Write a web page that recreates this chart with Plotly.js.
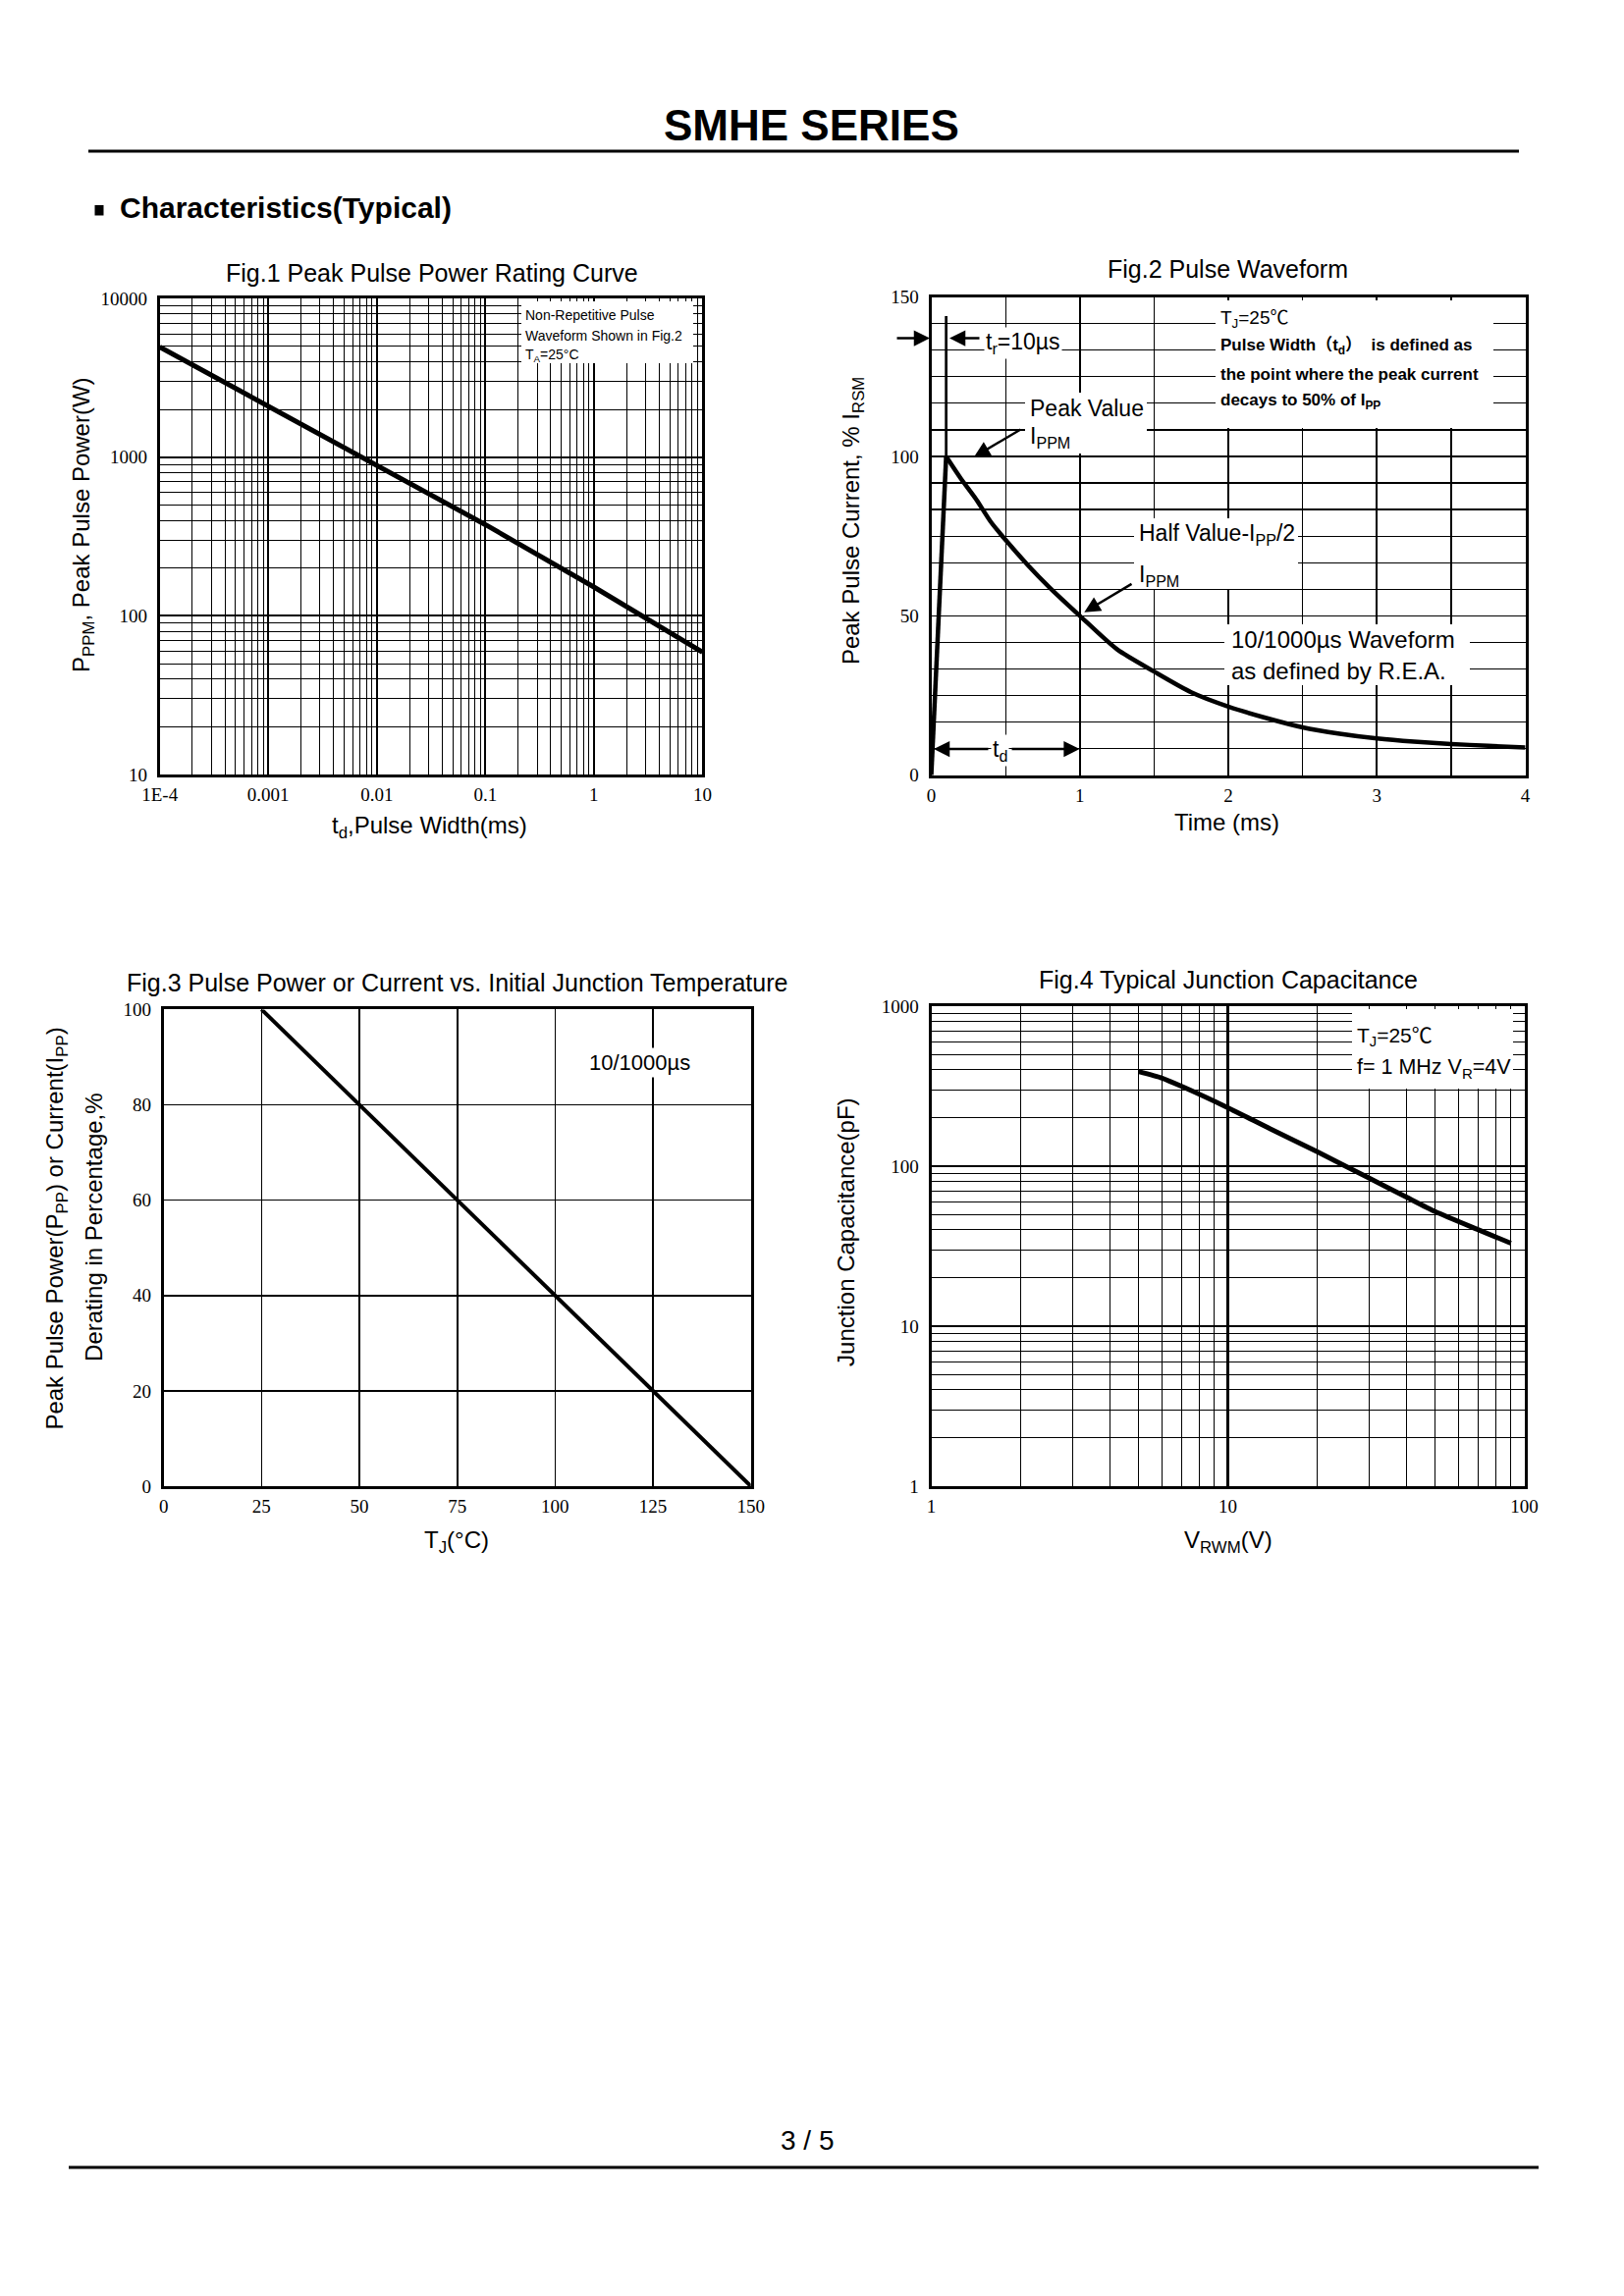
<!DOCTYPE html>
<html>
<head>
<meta charset="utf-8">
<script src="https://cdn.plot.ly/plotly-3.0.1.min.js"></script>
<style>
  html, body { margin: 0; padding: 0; background: #ffffff; }
  #chart { width: 1654px; height: 2339px; }
</style>
</head>
<body>
<div id="chart"></div>
<script>
// ---------------- DATA ----------------
// Fig.1 Peak Pulse Power Rating Curve
const fig1PulseWidth = [1e-4, 1e-3, 1e-2, 1e-1, 1, 10];          // ms
const fig1PeakPower  = [4950, 2090, 874, 376, 152, 59];            // W
const fig1XTickVals  = [1e-4, 1e-3, 1e-2, 1e-1, 1, 10];
const fig1XTickText  = ['1E-4', '0.001', '0.01', '0.1', '1', '10'];
const fig1YTickVals  = [10, 100, 1000, 10000];
const fig1YTickText  = ['10', '100', '1000', '10000'];

// Fig.2 Pulse Waveform (rise part, then decay part)
const fig2RiseTime     = [0, 0.1];     // ms
const fig2RiseCurrent  = [0, 100];     // % IRSM
const fig2DecayTime    = [0.1, 0.2, 0.3, 0.4, 0.5, 0.65, 0.8, 1.0, 1.25, 1.5, 1.75, 2.0, 2.25, 2.5, 2.75, 3.0, 3.25, 3.5, 3.75, 4.0];
const fig2DecayCurrent = [100, 93, 86.7, 79.5, 73.8, 65.9, 58.7, 50, 39.5, 32.5, 26, 21.5, 18, 15, 13, 11.5, 10.5, 9.8, 9.2, 8.7];
const fig2XTickVals = [0, 1, 2, 3, 4];
const fig2YTickVals = [0, 50, 100, 150];
const fig2TrMarkerX = 0.1;          // ms, position of the tr marker line
const fig2TrMarkerY = [100, 144];

// Fig.3 Pulse Power or Current vs. Initial Junction Temperature
const fig3Temp     = [25, 50, 75, 100, 125, 150];   // °C
const fig3Derating = [100, 80, 60, 40, 20, 0];      // %
const fig3XTickVals = [0, 25, 50, 75, 100, 125, 150];
const fig3YTickVals = [0, 20, 40, 60, 80, 100];

// Fig.4 Typical Junction Capacitance
const fig4Voltage     = [5, 6, 7, 10, 13.9, 20, 30, 40, 50, 70, 90];            // V
const fig4Capacitance = [390, 355, 315, 232, 171, 123, 84, 64, 52, 40, 33];     // pF
const fig4XTickVals = [1, 10, 100];
const fig4XTickText = ['1', '10', '100'];
const fig4YTickVals = [1, 10, 100, 1000];
const fig4YTickText = ['1', '10', '100', '1000'];

// ---------------- LAYOUT HELPERS ----------------
const W = 1654, H = 2339;
const px = v => v / W;
const py = v => 1 - v / H;
const SANS  = 'Liberation Sans, Arial, Noto Sans CJK SC, sans-serif';
const SERIF = 'Liberation Serif, Times New Roman, serif';

const frames = {
  f1: { x0: 162.7, x1: 715.4,  y0: 304.2,  y1: 789.0 },
  f2: { x0: 948.5, x1: 1553.6, y0: 302.6,  y1: 789.7 },
  f3: { x0: 166.7, x1: 764.7,  y0: 1028.4, y1: 1514.0 },
  f4: { x0: 948.5, x1: 1552.6, y0: 1025.0, y1: 1514.0 }
};
const xdom = f => [px(f.x0), px(f.x1)];
const ydom = f => [py(f.y1), py(f.y0)];

function logMinor(lo, hi) {
  const v = [];
  for (let d = lo; d < hi; d++) for (let k = 2; k <= 9; k++) v.push(k * Math.pow(10, d));
  return v;
}

function axis(extra) {
  return Object.assign({
    showline: true, mirror: true, linewidth: 3, linecolor: '#000',
    showgrid: true, gridcolor: '#000', gridwidth: 1.5,
    zeroline: false, ticks: '',
    tickfont: { family: SERIF, size: 19, color: '#000' },
    fixedrange: true
  }, extra);
}
const XSTAND = 1, YSTAND = 6;

function txt(text, x, y, size, opts) {
  return Object.assign({
    text: text, x: px(x), y: py(y), xref: 'paper', yref: 'paper',
    showarrow: false, xanchor: 'center', yanchor: 'middle',
    font: { family: SANS, size: size, color: '#000' }
  }, opts || {});
}

function arrow(tipX, tipY, tailX, tailY) {
  return {
    text: '', x: px(tipX), y: py(tipY), xref: 'paper', yref: 'paper',
    showarrow: true, ax: tailX - tipX, ay: tailY - tipY,
    arrowhead: 2, arrowsize: 1.3, arrowwidth: 2.5, arrowcolor: '#000', standoff: 0
  };
}

function whiteBox(x0, y0, x1, y1) {
  return {
    type: 'rect', xref: 'paper', yref: 'paper', layer: 'above',
    x0: px(x0), x1: px(x1), y0: py(y1), y1: py(y0),
    fillcolor: '#ffffff', line: { width: 0 }
  };
}

// ---------------- TRACES ----------------
const traces = [
  { x: fig1PulseWidth, y: fig1PeakPower, xaxis: 'x', yaxis: 'y', type: 'scatter', mode: 'lines',
    line: { color: '#000', width: 5 }, hoverinfo: 'skip' },
  { x: fig2RiseTime, y: fig2RiseCurrent, xaxis: 'x2', yaxis: 'y2', type: 'scatter', mode: 'lines',
    line: { color: '#000', width: 4.5 }, hoverinfo: 'skip' },
  { x: fig2DecayTime, y: fig2DecayCurrent, xaxis: 'x2', yaxis: 'y2', type: 'scatter', mode: 'lines',
    line: { color: '#000', width: 4.5, shape: 'spline', smoothing: 0.7 }, hoverinfo: 'skip' },
  { x: fig3Temp, y: fig3Derating, xaxis: 'x3', yaxis: 'y3', type: 'scatter', mode: 'lines',
    line: { color: '#000', width: 4 }, hoverinfo: 'skip' },
  { x: fig4Voltage, y: fig4Capacitance, xaxis: 'x4', yaxis: 'y4', type: 'scatter', mode: 'lines',
    line: { color: '#000', width: 5, shape: 'spline', smoothing: 0.6 }, hoverinfo: 'skip' }
];

// ---------------- LAYOUT ----------------
const layout = {
  width: W, height: H,
  margin: { l: 0, r: 0, t: 0, b: 0 },
  paper_bgcolor: '#ffffff', plot_bgcolor: '#ffffff',
  showlegend: false,
  font: { family: SANS, color: '#000' },

  xaxis: axis({ domain: xdom(frames.f1), anchor: 'y', type: 'log', range: [-4, 1], ticklabelstandoff: XSTAND,
    tickmode: 'array', tickvals: fig1XTickVals, ticktext: fig1XTickText, gridwidth: 2,
    minor: { tickmode: 'array', tickvals: logMinor(-4, 1), showgrid: true, gridcolor: '#000', gridwidth: 1, ticks: '' } }),
  yaxis: axis({ domain: ydom(frames.f1), anchor: 'x', type: 'log', range: [1, 4], ticklabelstandoff: YSTAND,
    tickmode: 'array', tickvals: fig1YTickVals, ticktext: fig1YTickText, gridwidth: 2,
    minor: { tickmode: 'array', tickvals: logMinor(1, 4), showgrid: true, gridcolor: '#000', gridwidth: 1, ticks: '' } }),

  xaxis2: axis({ domain: xdom(frames.f2), anchor: 'y2', range: [0, 4], ticklabelstandoff: XSTAND,
    tickmode: 'array', tickvals: fig2XTickVals, gridwidth: 2,
    minor: { tickmode: 'linear', tick0: 0, dtick: 0.5, showgrid: true, gridcolor: '#000', gridwidth: 1.2, ticks: '' } }),
  yaxis2: axis({ domain: ydom(frames.f2), anchor: 'x2', range: [0, 150], ticklabelstandoff: YSTAND,
    tickmode: 'array', tickvals: fig2YTickVals, gridwidth: 1.4,
    minor: { tickmode: 'linear', tick0: 0, dtick: 50 / 6, showgrid: true, gridcolor: '#000', gridwidth: 1.2, ticks: '' } }),

  xaxis3: axis({ domain: xdom(frames.f3), anchor: 'y3', range: [0, 150], ticklabelstandoff: XSTAND,
    tickmode: 'array', tickvals: fig3XTickVals, gridwidth: 1.6 }),
  yaxis3: axis({ domain: ydom(frames.f3), anchor: 'x3', range: [0, 100], ticklabelstandoff: YSTAND,
    tickmode: 'array', tickvals: fig3YTickVals, gridwidth: 1.6 }),

  xaxis4: axis({ domain: xdom(frames.f4), anchor: 'y4', type: 'log', range: [0, 2], ticklabelstandoff: XSTAND,
    tickmode: 'array', tickvals: fig4XTickVals, ticktext: fig4XTickText, gridwidth: 2.5,
    minor: { tickmode: 'array', tickvals: logMinor(0, 2), showgrid: true, gridcolor: '#000', gridwidth: 1, ticks: '' } }),
  yaxis4: axis({ domain: ydom(frames.f4), anchor: 'x4', type: 'log', range: [0, 3], ticklabelstandoff: YSTAND,
    tickmode: 'array', tickvals: fig4YTickVals, ticktext: fig4YTickText, gridwidth: 2.2,
    minor: { tickmode: 'array', tickvals: logMinor(0, 3), showgrid: true, gridcolor: '#000', gridwidth: 1, ticks: '' } }),

  shapes: [
    // page rules
    { type: 'line', xref: 'paper', yref: 'paper', x0: px(90), x1: px(1547), y0: py(154), y1: py(154), line: { color: '#000', width: 3 } },
    { type: 'line', xref: 'paper', yref: 'paper', x0: px(70), x1: px(1567), y0: py(2208), y1: py(2208), line: { color: '#000', width: 3 } },
    // section bullet
    { type: 'rect', xref: 'paper', yref: 'paper', x0: px(96.5), x1: px(105.5), y0: py(219.5), y1: py(209), fillcolor: '#000', line: { width: 0 } },
    // white backgrounds behind the note blocks
    whiteBox(531, 307, 706, 370),
    whiteBox(1238, 306, 1521, 436),
    whiteBox(1044, 400, 1168, 462),
    whiteBox(1155, 528, 1322, 600),
    whiteBox(1247, 636, 1497, 698),
    whiteBox(1377, 1028, 1541, 1109),
    // tr marker line in Fig.2
    { type: 'line', xref: 'x2', yref: 'y2', x0: fig2TrMarkerX, x1: fig2TrMarkerX, y0: fig2TrMarkerY[0], y1: fig2TrMarkerY[1],
      line: { color: '#000', width: 2.7 } }
  ],

  annotations: [
    // page header / footer
    txt('<b>SMHE SERIES</b>', 826, 127, 44),
    txt('<b>Characteristics(Typical)</b>', 120, 211, 30, { xanchor: 'left' }),
    txt('3 / 5', 822, 2180, 28),

    // Fig.1
    txt('Fig.1 Peak Pulse Power Rating Curve', 439.5, 278, 25),
    txt('t<sub>d</sub>,Pulse Width(ms)', 437.7, 843, 24),
    txt('P<sub>PPM</sub>, Peak Pulse Power(W)', 84.6, 535.3, 24, { textangle: -90 }),
    txt('Non-Repetitive Pulse', 533, 321, 14, { xanchor: 'left' }),
    txt('Waveform Shown in Fig.2', 533, 342, 14, { xanchor: 'left' }),
    txt('T<sub>A</sub>=25°C', 533, 362, 14, { xanchor: 'left' }),

    // Fig.2
    txt('Fig.2 Pulse Waveform', 1250.5, 274, 25),
    txt('Time (ms)', 1249.4, 837, 24),
    txt('Peak Pulse Current, % I<sub>RSM</sub>', 868.3, 530.8, 24, { textangle: -90 }),
    txt('T<sub>J</sub>=25℃', 1241, 325, 19, { xanchor: 'left' }),
    txt('<b>Pulse Width（t<sub>d</sub>）  is defined as</b>', 1241, 353.3, 17, { xanchor: 'left' }),
    txt('<b>the point where the peak current</b>', 1241, 381.7, 17, { xanchor: 'left' }),
    txt('<b>decays to 50% of I<sub>PP</sub></b>', 1241, 409.3, 17, { xanchor: 'left' }),
    txt('t<sub>r</sub>=10µs', 1002, 350, 23, { xanchor: 'left', bgcolor: '#ffffff', borderpad: 1 }),
    arrow(947, 344.5, 912, 344.5),
    arrow(967, 344.5, 999, 344.5),
    txt('Peak Value', 1047, 416, 23, { xanchor: 'left' }),
    txt('I<sub>PPM</sub>', 1047, 445.7, 23, { xanchor: 'left' }),
    arrow(992, 465.5, 1041, 436.6),
    txt('Half Value-I<sub>PP</sub>/2', 1158, 544.6, 23, { xanchor: 'left' }),
    txt('I<sub>PPM</sub>', 1158, 586, 23, { xanchor: 'left' }),
    arrow(1104.3, 623.7, 1154, 594),
    txt('10/1000µs Waveform', 1252, 651.3, 24, { xanchor: 'left' }),
    txt('as defined by R.E.A.', 1252, 683, 24, { xanchor: 'left' }),
    arrow(951, 763, 1008, 763),
    arrow(1099.6, 763, 1029, 763),
    txt('t<sub>d</sub>', 1018, 764, 23, { bgcolor: '#ffffff', borderpad: 1 }),

    // Fig.3
    txt('Fig.3 Pulse Power or Current vs. Initial Junction Temperature', 465.5, 1000.6, 25),
    txt('T<sub>J</sub>(°C)', 465, 1570, 24),
    txt('Peak Pulse Power(P<sub>PP</sub>) or Current(I<sub>PP</sub>)', 58, 1251.6, 24, { textangle: -90 }),
    txt('Derating in Percentage,%', 95.3, 1249.6, 24, { textangle: -90 }),
    txt('10/1000µs', 651, 1082, 22, { bgcolor: '#ffffff', borderpad: 2 }),

    // Fig.4
    txt('Fig.4 Typical Junction Capacitance', 1251, 997.8, 25),
    txt('V<sub>RWM</sub>(V)', 1250.6, 1570, 24),
    txt('Junction Capacitance(pF)', 861.2, 1255.7, 24, { textangle: -90 }),
    txt('T<sub>J</sub>=25℃', 1380, 1055.7, 21, { xanchor: 'left' }),
    txt('f= 1 MHz V<sub>R</sub>=4V', 1380, 1088, 21.5, { xanchor: 'left' })
  ]
};

Plotly.newPlot('chart', traces, layout, { staticPlot: true, displayModeBar: false });
</script>
</body>
</html>
